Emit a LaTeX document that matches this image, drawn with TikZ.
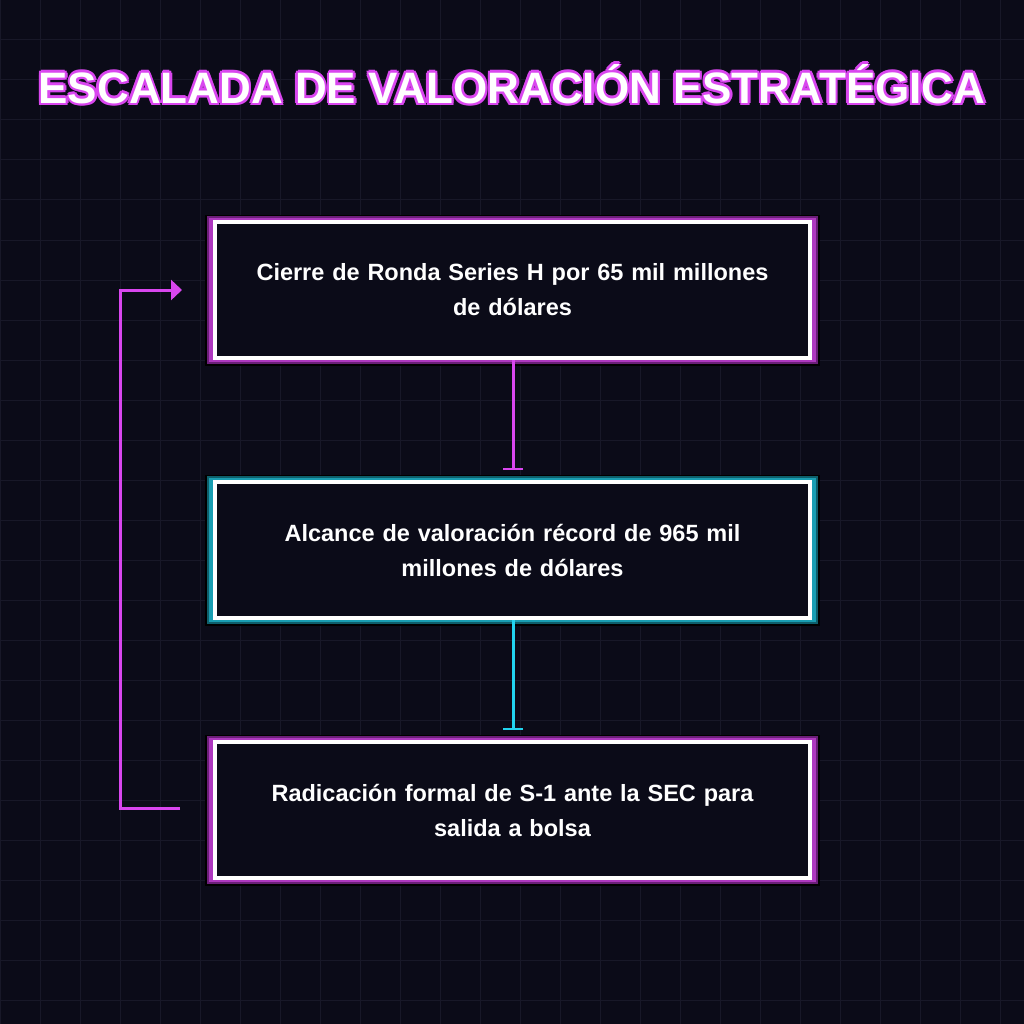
\documentclass[tikz,border=0pt]{standalone}
\usepackage{fontspec}
\setmainfont{Liberation Sans}
\usetikzlibrary{arrows.meta}
\definecolor{bg}{HTML}{0B0B18}
\definecolor{gridc}{HTML}{181828}
\definecolor{mag}{HTML}{D946EF}
\definecolor{magd}{HTML}{6B1F78}
\definecolor{cyan}{HTML}{22D3EE}
\definecolor{cyand}{HTML}{0E5F6B}
\tikzset{
  boxbase/.style={fill=bg, draw=white, line width=4pt, minimum width=595pt, minimum height=136pt, inner sep=0pt, text width=585pt, align=center, font=\bfseries\fontsize{23.5}{35}\selectfont, text=white},
  titlefont/.style={font=\bfseries\fontsize{44}{50}\selectfont},
}
\begin{document}
\begin{tikzpicture}[x=1pt,y=-1pt]
\fill[bg] (0,0) rectangle (1024,1024);
\useasboundingbox (0,0) rectangle (1024,1024);
\foreach \i in {0,40,...,1000} {
  \draw[gridc, line width=1pt] (\i,0) -- (\i,1024);
  \draw[gridc, line width=1pt] (0,\i) -- (1024,\i);
}
% title glow
\foreach \dx/\dy in {-2.5/0,2.5/0,0/-2.5,0/2.5,-1.8/-1.8,1.8/1.8,-1.8/1.8,1.8/-1.8}
  \node[text=mag, titlefont] at (512+\dx,84+\dy) {ESCALADA DE VALORACIÓN ESTRATÉGICA};
\node (title) [text=white, titlefont] at (512,84) {ESCALADA DE VALORACIÓN ESTRATÉGICA};
% box glows
\fill[black] (205,215) rectangle (820,366);
\fill[magd] (207,216) rectangle (818,364);
\fill[mag!80!black] (209,218) rectangle (816,362);
\fill[black] (205,475) rectangle (820,626);
\fill[cyand] (207,476) rectangle (818,624);
\fill[cyan!75!black] (209,478) rectangle (816,622);
\fill[black] (205,735) rectangle (820,886);
\fill[magd] (207,736) rectangle (818,884);
\fill[mag!80!black] (209,738) rectangle (816,882);
\node (b1) [boxbase] at (512.5,290) {Cierre de Ronda Series H por 65 mil millones\\de dólares};
\node (b2) [boxbase] at (512.5,550) {Alcance de valoración récord de 965 mil\\millones de dólares};
\node (b3) [boxbase] at (512.5,810) {Radicación formal de S-1 ante la SEC para\\salida a bolsa};
% connectors
\coordinate (t1) at (513,470);
\coordinate (t2) at (513,730);
\draw[mag, line width=3pt, -{Bar[width=20pt,line width=2pt]}] (b1.south -| t1) -- (t1);
\draw[cyan, line width=3pt, -{Bar[width=20pt,line width=2pt]}] (b2.south -| t2) -- (t2);
\coordinate (l1) at (180,808);
\coordinate (l2) at (182,290);
\draw[mag, line width=3pt, -{Triangle[width=20pt,length=11pt]}] (l1) -- (120,808) -- (120,290) -- (l2);
\end{tikzpicture}
\end{document}
